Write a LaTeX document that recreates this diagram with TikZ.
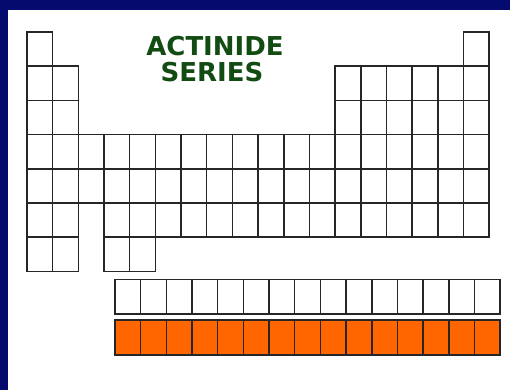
\documentclass[tikz,border=0pt]{standalone}
\usepackage{fontspec}
\newfontfamily\titlefont{DejaVu Sans}[BoldFont={DejaVu Sans Bold}]
\definecolor{navy}{RGB}{4,10,110}
\definecolor{leafgreen}{RGB}{18,76,18}
\definecolor{actorange}{RGB}{255,102,0}
\begin{document}
\begin{tikzpicture}[x=1pt,y=-1pt,
  cellbox/.style={draw=black!85,line width=1.6pt,minimum width=25.67pt,minimum height=34.2pt,inner sep=0pt,outer sep=0pt,anchor=north west},
  rowbox/.style={draw=black!85,line width=1.6pt,minimum width=25.67pt,minimum height=34.7pt,inner sep=0pt,outer sep=0pt,anchor=north west},
  actbox/.style={rowbox,fill=actorange},
  titletext/.style={text=leafgreen,font=\titlefont\bfseries\fontsize{26}{30}\selectfont,inner sep=0pt}]
\useasboundingbox (0,0) rectangle (510,390);
\fill[white] (0,0) rectangle (510,390);
\fill[navy] (0,0) rectangle (510,10);
\fill[navy] (0,0) rectangle (8,390);
% main table
\def\xo{27}\def\dx{25.67}\def\yo{32}\def\dy{34.2}
% row 1
\foreach \c in {1,18}
  \node[cellbox] (m-1-\c) at ({\xo+(\c-1)*\dx},{\yo}) {};
% rows 2-3
\foreach \r in {2,3}
  \foreach \c in {1,2,13,14,15,16,17,18}
    \node[cellbox] (m-\r-\c) at ({\xo+(\c-1)*\dx},{\yo+(\r-1)*\dy}) {};
% rows 4-5
\foreach \r in {4,5}
  \foreach \c in {1,...,18}
    \node[cellbox] (m-\r-\c) at ({\xo+(\c-1)*\dx},{\yo+(\r-1)*\dy}) {};
% row 6
\foreach \c in {1,2,4,5,6,7,8,9,10,11,12,13,14,15,16,17,18}
  \node[cellbox] (m-6-\c) at ({\xo+(\c-1)*\dx},{\yo+5*\dy}) {};
% row 7
\foreach \c in {1,2,4,5}
  \node[cellbox] (m-7-\c) at ({\xo+(\c-1)*\dx},{\yo+6*\dy}) {};
% lower series
\foreach \c in {1,...,15}
  \node[rowbox] (l-\c) at ({115+(\c-1)*\dx},279.5) {};
\foreach \c in {1,...,15}
  \node[actbox] (a-\c) at ({115+(\c-1)*\dx},320) {};
% title
\node[titletext] (t1) at (215,46) {ACTINIDE};
\node[titletext] (t2) at (212,72.5) {SERIES};
\end{tikzpicture}
\end{document}
